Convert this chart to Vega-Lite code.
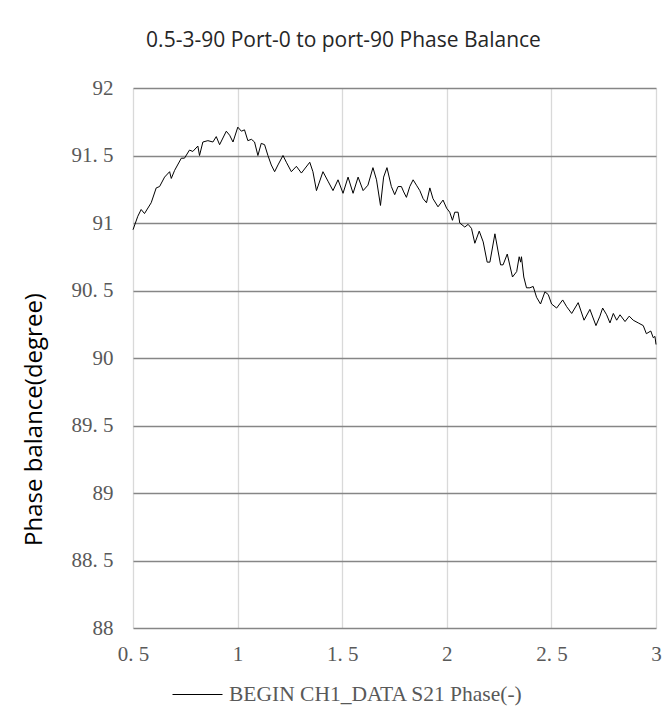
{
  "$schema": "https://vega.github.io/schema/vega-lite/v6.json",
  "width": 523,
  "height": 540,
  "autosize": "none",
  "padding": {"left": 133, "top": 88, "right": 16, "bottom": 94},
  "background": "white",
  "title": {
    "text": "0.5-3-90 Port-0 to port-90  Phase Balance",
    "font": "Open Sans",
    "fontSize": 21,
    "fontWeight": "normal",
    "color": "#262626",
    "anchor": "middle",
    "frame": "group",
    "dx": -51,
    "offset": 26
  },
  "data": {
    "values": [
      {"f": 0.5, "v": 90.95}, {"f": 0.523, "v": 91.05}, {"f": 0.539, "v": 91.1}, {"f": 0.555, "v": 91.07},
      {"f": 0.587, "v": 91.15}, {"f": 0.611, "v": 91.26}, {"f": 0.627, "v": 91.27}, {"f": 0.651, "v": 91.34},
      {"f": 0.675, "v": 91.38}, {"f": 0.683, "v": 91.33}, {"f": 0.699, "v": 91.39}, {"f": 0.731, "v": 91.48},
      {"f": 0.746, "v": 91.48}, {"f": 0.77, "v": 91.54}, {"f": 0.786, "v": 91.53}, {"f": 0.81, "v": 91.57},
      {"f": 0.818, "v": 91.5}, {"f": 0.834, "v": 91.6}, {"f": 0.858, "v": 91.61}, {"f": 0.882, "v": 91.6},
      {"f": 0.898, "v": 91.64}, {"f": 0.914, "v": 91.58}, {"f": 0.946, "v": 91.68}, {"f": 0.962, "v": 91.65},
      {"f": 0.978, "v": 91.6}, {"f": 1.001, "v": 91.71}, {"f": 1.018, "v": 91.68}, {"f": 1.033, "v": 91.69},
      {"f": 1.049, "v": 91.61}, {"f": 1.066, "v": 91.62}, {"f": 1.081, "v": 91.6}, {"f": 1.097, "v": 91.5},
      {"f": 1.113, "v": 91.59}, {"f": 1.129, "v": 91.58}, {"f": 1.145, "v": 91.5}, {"f": 1.161, "v": 91.43},
      {"f": 1.177, "v": 91.38}, {"f": 1.193, "v": 91.43}, {"f": 1.217, "v": 91.5}, {"f": 1.233, "v": 91.45},
      {"f": 1.257, "v": 91.38}, {"f": 1.281, "v": 91.42}, {"f": 1.305, "v": 91.37}, {"f": 1.345, "v": 91.45},
      {"f": 1.36, "v": 91.38}, {"f": 1.377, "v": 91.24}, {"f": 1.408, "v": 91.38}, {"f": 1.432, "v": 91.31},
      {"f": 1.456, "v": 91.24}, {"f": 1.48, "v": 91.32}, {"f": 1.504, "v": 91.22}, {"f": 1.528, "v": 91.34},
      {"f": 1.552, "v": 91.22}, {"f": 1.576, "v": 91.34}, {"f": 1.6, "v": 91.24}, {"f": 1.623, "v": 91.28},
      {"f": 1.647, "v": 91.41}, {"f": 1.664, "v": 91.32}, {"f": 1.683, "v": 91.13}, {"f": 1.698, "v": 91.34},
      {"f": 1.714, "v": 91.41}, {"f": 1.735, "v": 91.27}, {"f": 1.751, "v": 91.21}, {"f": 1.767, "v": 91.27},
      {"f": 1.783, "v": 91.27}, {"f": 1.794, "v": 91.23}, {"f": 1.807, "v": 91.19}, {"f": 1.823, "v": 91.27},
      {"f": 1.839, "v": 91.32}, {"f": 1.855, "v": 91.28}, {"f": 1.871, "v": 91.24}, {"f": 1.887, "v": 91.18},
      {"f": 1.903, "v": 91.15}, {"f": 1.919, "v": 91.26}, {"f": 1.934, "v": 91.18}, {"f": 1.958, "v": 91.12},
      {"f": 1.982, "v": 91.17}, {"f": 1.999, "v": 91.11}, {"f": 2.014, "v": 91.08}, {"f": 2.027, "v": 91.02},
      {"f": 2.038, "v": 91.08}, {"f": 2.054, "v": 91.08}, {"f": 2.062, "v": 91.0}, {"f": 2.086, "v": 90.97},
      {"f": 2.102, "v": 90.99}, {"f": 2.118, "v": 90.96}, {"f": 2.134, "v": 90.85}, {"f": 2.155, "v": 90.94},
      {"f": 2.174, "v": 90.86}, {"f": 2.193, "v": 90.71}, {"f": 2.206, "v": 90.71}, {"f": 2.23, "v": 90.92},
      {"f": 2.257, "v": 90.69}, {"f": 2.269, "v": 90.69}, {"f": 2.289, "v": 90.77}, {"f": 2.314, "v": 90.6},
      {"f": 2.334, "v": 90.64}, {"f": 2.346, "v": 90.75}, {"f": 2.353, "v": 90.71}, {"f": 2.357, "v": 90.75},
      {"f": 2.368, "v": 90.6}, {"f": 2.381, "v": 90.52}, {"f": 2.397, "v": 90.52}, {"f": 2.413, "v": 90.53},
      {"f": 2.429, "v": 90.45}, {"f": 2.448, "v": 90.4}, {"f": 2.469, "v": 90.49}, {"f": 2.485, "v": 90.47},
      {"f": 2.501, "v": 90.4}, {"f": 2.525, "v": 90.37}, {"f": 2.554, "v": 90.43}, {"f": 2.573, "v": 90.38},
      {"f": 2.597, "v": 90.33}, {"f": 2.628, "v": 90.41}, {"f": 2.656, "v": 90.28}, {"f": 2.684, "v": 90.36},
      {"f": 2.713, "v": 90.24}, {"f": 2.732, "v": 90.31}, {"f": 2.745, "v": 90.37}, {"f": 2.764, "v": 90.32},
      {"f": 2.78, "v": 90.26}, {"f": 2.796, "v": 90.33}, {"f": 2.812, "v": 90.28}, {"f": 2.828, "v": 90.32},
      {"f": 2.852, "v": 90.27}, {"f": 2.872, "v": 90.31}, {"f": 2.891, "v": 90.28}, {"f": 2.915, "v": 90.26},
      {"f": 2.939, "v": 90.24}, {"f": 2.954, "v": 90.18}, {"f": 2.975, "v": 90.2}, {"f": 2.987, "v": 90.15},
      {"f": 2.995, "v": 90.16}, {"f": 3.0, "v": 90.1}
    ]
  },
  "mark": {"type": "line", "strokeWidth": 1, "interpolate": "linear"},
  "encoding": {
    "x": {
      "field": "f",
      "type": "quantitative",
      "title": null,
      "scale": {"domain": [0.5, 3], "nice": false, "zero": false},
      "axis": {
        "values": [0.5, 1, 1.5, 2, 2.5, 3],
        "format": "~g",
        "labelExpr": "replace(datum.label, '.', '. ')",
        "grid": true,
        "gridColor": "#d9d9d9",
        "gridWidth": 1.3,
        "domain": false,
        "ticks": false,
        "labelPadding": 15,
        "labelFont": "Liberation Serif",
        "labelFontSize": 21,
        "labelColor": "#595959",
        "labelFlush": false
      }
    },
    "y": {
      "field": "v",
      "type": "quantitative",
      "title": "Phase balance(degree)",
      "scale": {"domain": [88, 92], "nice": false, "zero": false},
      "axis": {
        "values": [88, 88.5, 89, 89.5, 90, 90.5, 91, 91.5, 92],
        "format": "~g",
        "labelExpr": "replace(datum.label, '.', '. ')",
        "grid": true,
        "gridColor": "#868686",
        "gridWidth": 1.3,
        "domain": false,
        "ticks": false,
        "labelPadding": 20,
        "labelFont": "Liberation Serif",
        "labelFontSize": 21,
        "labelColor": "#595959",
        "titleFont": "Open Sans",
        "titleFontSize": 24,
        "titleFontWeight": "normal",
        "titleColor": "#000000",
        "titleAngle": -90,
        "titleAlign": "center",
        "titleBaseline": "middle",
        "titleX": -99,
        "titleY": 331
      }
    },
    "color": {
      "datum": "BEGIN CH1_DATA S21 Phase(-)",
      "type": "nominal",
      "scale": {"range": ["#000000"]},
      "legend": {
        "title": null,
        "orient": "none",
        "legendX": 39,
        "legendY": 581,
        "direction": "horizontal",
        "symbolType": "stroke",
        "symbolSize": 2500,
        "symbolStrokeWidth": 1,
        "labelFont": "Liberation Serif",
        "labelFontSize": 21.5,
        "labelColor": "#595959",
        "labelOffset": 6,
        "labelLimit": 400
      }
    }
  },
  "config": {"view": {"stroke": null}}
}
